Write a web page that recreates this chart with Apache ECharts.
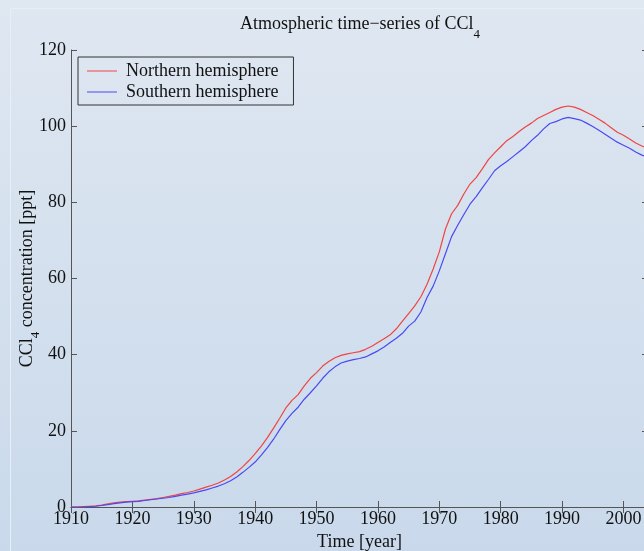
<!DOCTYPE html>
<html>
<head>
<meta charset="utf-8">
<script src="https://cdn.jsdelivr.net/npm/echarts@6/dist/echarts.min.js"></script>
<style>
  html, body { margin: 0; padding: 0; }
  #chart { width: 644px; height: 551px; }
</style>
</head>
<body>
<div id="chart"></div>
<script>
// years 1910..2004, one value per year
var startYear = 1910;
var northern = [
  0.0, 0.0, 0.1, 0.2, 0.3, 0.5, 0.8, 1.1, 1.3, 1.4,
  1.5, 1.6, 1.8, 2.0, 2.2, 2.5, 2.8, 3.1, 3.5, 3.8,
  4.2, 4.7, 5.2, 5.7, 6.3, 7.1, 8.0, 9.2, 10.6, 12.2,
  14.0, 16.0, 18.2, 20.7, 23.3, 26.0, 28.0, 29.5, 31.8, 33.8,
  35.3, 37.0, 38.2, 39.2, 39.8, 40.2, 40.5, 40.8, 41.4, 42.2,
  43.2, 44.2, 45.2, 46.8, 48.8, 50.8, 52.8, 55.2, 58.5, 62.5,
  67.0, 73.0, 77.0, 79.2, 82.2, 84.8, 86.5, 88.8, 91.2, 93.0,
  94.6, 96.2, 97.3, 98.6, 99.8, 100.8, 102.0, 102.8, 103.6, 104.4,
  105.0, 105.3, 105.0, 104.4, 103.6, 102.8, 101.8, 100.8, 99.6, 98.4,
  97.6, 96.6, 95.6, 94.8, 94.2
];
var southern = [
  0.0, 0.0, 0.0, 0.1, 0.2, 0.4, 0.6, 0.9, 1.1, 1.3,
  1.4, 1.5, 1.7, 1.9, 2.1, 2.3, 2.5, 2.8, 3.1, 3.4,
  3.7, 4.1, 4.5, 5.0, 5.5, 6.1, 6.9, 7.9, 9.1, 10.4,
  11.8, 13.6, 15.6, 17.8, 20.3, 22.7, 24.6, 26.2, 28.3, 30.0,
  31.8, 33.8, 35.5, 36.8, 37.8, 38.3, 38.7, 39.0, 39.4, 40.2,
  41.0, 42.0, 43.2, 44.3, 45.6, 47.5, 48.8, 51.2, 55.0, 58.0,
  62.0, 66.5, 71.0, 74.0, 76.8, 79.5, 81.5, 83.8, 86.0, 88.3,
  89.6, 90.7, 92.0, 93.3, 94.6, 96.2, 97.6, 99.3, 100.7, 101.2,
  101.9, 102.3, 102.0, 101.6, 100.8, 99.9, 98.9, 97.9, 96.8, 95.8,
  95.0, 94.2, 93.2, 92.4, 91.8
];
var seriesNames = ["Northern hemisphere", "Southern hemisphere"];

var font = "Liberation Serif";
var axisColor = "#555";

function pairs(arr) {
  return arr.map(function (v, i) {
    return [startYear + i, v];
  });
}

var xCommon = {
  type: "value",
  min: 1910,
  max: 2004,
  interval: 10,
  splitLine: { show: false },
  axisLine: { lineStyle: { color: axisColor } },
  axisTick: { inside: true, length: 6, lineStyle: { color: axisColor } },
};
var yCommon = {
  type: "value",
  min: 0,
  max: 120,
  interval: 20,
  splitLine: { show: false },
  axisLine: { lineStyle: { color: axisColor } },
  axisTick: { inside: true, length: 6, lineStyle: { color: axisColor } },
};

var myChart = echarts.init(document.getElementById("chart"));
var option = {
  animation: false,
  backgroundColor: new echarts.graphic.LinearGradient(0, 0, 0, 1, [
    { offset: 0, color: "#dfe7f1" },
    { offset: 1, color: "#c9d9eb" },
  ]),
  textStyle: { fontFamily: font },
  graphic: [
    {
      type: "rect",
      silent: true,
      shape: { x: 10.5, y: 8.5, width: 700, height: 600 },
      style: { fill: null, stroke: "#e9eef5", lineWidth: 1 },
    },
  ],
  title: {
    text: "{m|Atmospheric time\u2212series of CCl}{s|4}",
    left: 360,
    top: 15,
    padding: 0,
    textAlign: "center",
    textStyle: {
      fontFamily: font,
      fontWeight: "normal",
      rich: {
        m: { fontFamily: font, fontSize: 18, lineHeight: 18, color: "#111", verticalAlign: "top" },
        s: { fontFamily: font, fontSize: 13, lineHeight: 13, color: "#111", verticalAlign: "top", padding: [13, 0, 0, 0] },
      },
    },
  },
  legend: {
    data: seriesNames,
    orient: "vertical",
    left: 78,
    top: 57,
    padding: [5, 15, 4, 9],
    itemGap: 3,
    itemWidth: 30,
    itemHeight: 1,
    icon: "rect",
    borderColor: "#333",
    borderWidth: 1,
    selectedMode: false,
    textStyle: { fontFamily: font, fontSize: 18, color: "#111", lineHeight: 18, padding: [0, 0, 0, 4] },
  },
  grid: { left: 71, right: -4, top: 50, bottom: 44, containLabel: false, outerBoundsMode: "none" },
  xAxis: [
    Object.assign({}, xCommon, {
      position: "bottom",
      name: "Time [year]",
      nameLocation: "middle",
      nameGap: 26,
      nameMoveOverlap: false,
      nameTextStyle: { fontFamily: font, fontSize: 18, color: "#111" },
      axisLabel: {
        fontFamily: font,
        fontSize: 18,
        color: "#111",
        margin: 3,
        formatter: function (v) {
          return v % 10 === 0 ? String(v) : "";
        },
      },
    }),
    Object.assign({}, xCommon, { position: "top", axisLabel: { show: false } }),
  ],
  yAxis: [
    Object.assign({}, yCommon, {
      position: "left",
      name: "{m|CCl}{s|4}{m| concentration [ppt]}",
      nameLocation: "middle",
      nameRotate: 90,
      nameGap: 35,
      nameMoveOverlap: false,
      nameTextStyle: {
        rich: {
          m: { fontFamily: font, fontSize: 18, lineHeight: 18, color: "#111", verticalAlign: "top" },
          s: { fontFamily: font, fontSize: 13, lineHeight: 13, color: "#111", verticalAlign: "top", padding: [11, 0, 0, 0] },
        },
      },
      axisLabel: { fontFamily: font, fontSize: 18, color: "#111", margin: 5 },
    }),
    Object.assign({}, yCommon, { position: "right", axisLabel: { show: false } }),
  ],
  series: [
    {
      name: seriesNames[0],
      type: "line",
      data: pairs(northern),
      showSymbol: false,
      symbol: "none",
      color: "#f04444",
      lineStyle: { width: 1.2, color: "#f04444" },
    },
    {
      name: seriesNames[1],
      type: "line",
      data: pairs(southern),
      showSymbol: false,
      symbol: "none",
      color: "#4a4af2",
      lineStyle: { width: 1.2, color: "#4a4af2" },
    },
  ],
};
myChart.setOption(option);
</script>
</body>
</html>
